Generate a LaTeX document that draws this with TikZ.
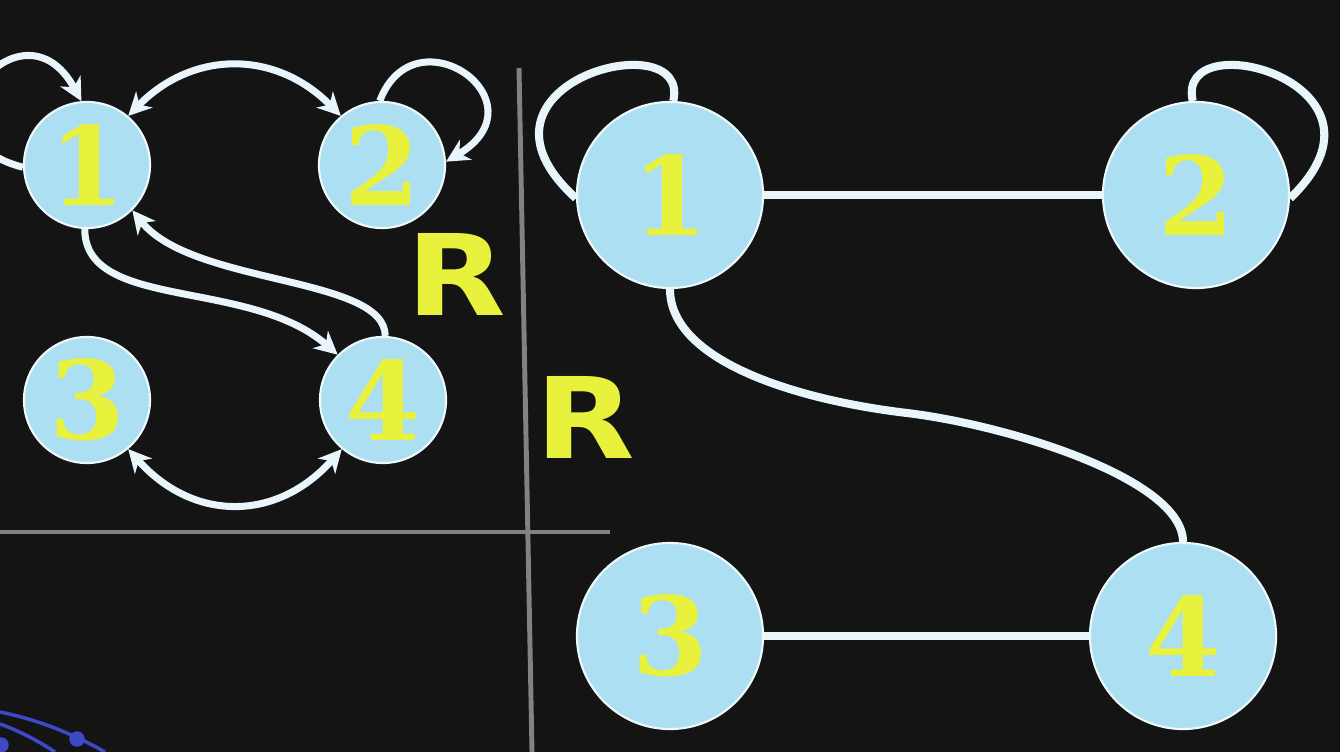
\documentclass[tikz,border=0pt]{standalone}
\usepackage{fontspec}
\usepackage{tikz}
\usetikzlibrary{arrows.meta}
\newfontfamily\numfont{DejaVu Serif}
\newfontfamily\letterfont[FakeStretch=1.15]{DejaVu Sans}
\definecolor{boardbg}{RGB}{20,20,21}
\definecolor{nodeblue}{RGB}{172,223,242}
\definecolor{chalkyellow}{RGB}{232,242,60}
\definecolor{linewhite}{RGB}{232,246,252}
\definecolor{divgray}{RGB}{128,130,132}
\definecolor{cornerblue}{RGB}{62,72,200}
\tikzstyle{vertex}=[circle,fill=nodeblue,draw=white!80!nodeblue,line width=0.6pt,minimum size=1.26cm,inner sep=0pt,text=chalkyellow,font=\numfont\bfseries\fontsize{31}{31}\selectfont]
\tikzstyle{bigvertex}=[vertex,minimum size=1.86cm]
\tikzstyle{arrowline}=[draw=linewhite,line width=2pt,-{Stealth[length=6.5pt,width=6.5pt,inset=2pt]}]
\tikzstyle{twoway}=[arrowline,{Stealth[length=6.5pt,width=6.5pt,inset=2pt]}-{Stealth[length=6.5pt,width=6.5pt,inset=2pt]}]
\tikzstyle{link}=[draw=linewhite,line width=2.3pt]
\tikzstyle{rlabel}=[text=chalkyellow,font=\letterfont\bfseries\fontsize{32}{32}\selectfont,inner sep=0pt]
\tikzstyle{divider}=[draw=divgray,line width=1.4pt]

\begin{document}
\begin{tikzpicture}[x=0.01cm,y=-0.01cm]
  \useasboundingbox (0,0) rectangle (1340,752);
  \fill[boardbg] (0,0) rectangle (1340,752);
  \clip (0,0) rectangle (1340,752);

  % corner decoration
  \draw[cornerblue,line width=1pt] (0,712) .. controls (40,720) and (75,735) .. (105,752);
  \draw[cornerblue,line width=1pt] (0,724) .. controls (20,731) and (40,742) .. (55,752);
  \fill[cornerblue] (77,739) circle (2.2pt);
  \fill[cornerblue] (1,745) circle (2.2pt);

  % dividers
  \draw[divider] (519,68) -- (532,752);
  \draw[divider] (0,532) -- (610,532);

  \begin{scope}
    \node[vertex] (l1) at (87,165) {1};
    \node[vertex] (l2) at (382,165) {2};
    \node[vertex] (l3) at (87,400) {3};
    \node[vertex] (l4) at (383,400) {4};
    \draw[arrowline] (l1.182) .. controls +(-120,-30) and +(-60,-110) .. (l1.95);
    \draw[arrowline] (l2.92) .. controls +(35,-92) and +(100,-60) .. (l2.3);
    \draw[twoway] (l1.50) .. controls +(65,-66) and +(-65,-66) .. (l2.130);
    \draw[twoway] (l3.-50) .. controls +(65,73) and +(-65,73) .. (l4.230);
    \draw[arrowline] (l1.268) .. controls +(0,82) and +(-88,-77) .. (l4.135);
    \draw[arrowline] (l4.88) .. controls +(0,-60) and +(60,75) .. (l1.-45);
    \node[rlabel] (rtop) at (456,274) {R};
  \end{scope}

  \node[rlabel] (rside) at (585,417) {R};

  \begin{scope}
    \node[bigvertex] (r1) at (670,195) {1};
    \node[bigvertex] (r2) at (1196,195) {2};
    \node[bigvertex] (r3) at (670,636) {3};
    \node[bigvertex] (r4) at (1183,636) {4};
    \coordinate (rmid) at (907,413);
    \draw[link] (r1.182) .. controls +(-127,-115) and +(18,-80) .. (r1.88);
    \draw[link] (r2.92) .. controls +(-18,-80) and +(120,-115) .. (r2.-2);
    \draw[link] (r1) -- (r2);
    \draw[link] (r3) -- (r4);
    \draw[link] (r1.south) .. controls +(0,72) and +(-110,-13) .. (rmid)
      .. controls +(100,12) and +(0,-63) .. (r4.north);
  \end{scope}
\end{tikzpicture}
\end{document}
